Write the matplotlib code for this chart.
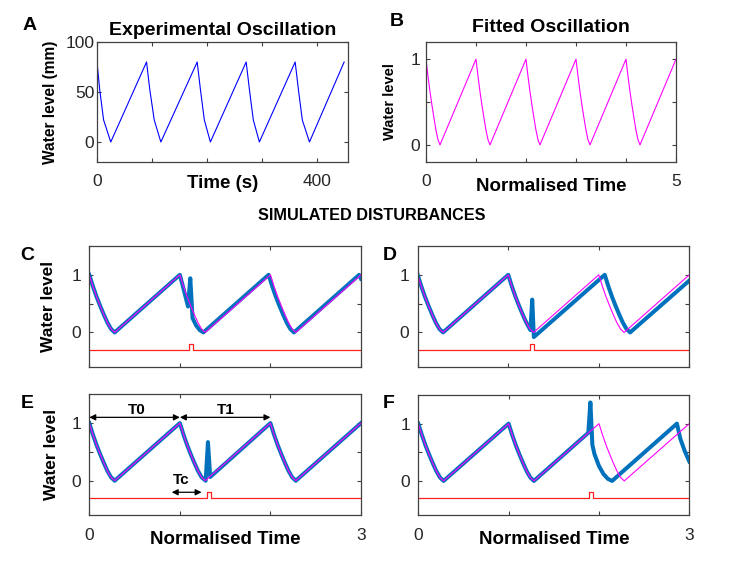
"""
Water-level oscillation figure: experimental trace, fitted model and
four simulated disturbance responses (panels A-F).
"""

import matplotlib

matplotlib.use("Agg")
import matplotlib.pyplot as plt

plt.rcParams["font.family"] = ["Liberation Sans", "DejaVu Sans"]

COLORS = {
    "exp": "#0000FF",       # experimental trace
    "fit": "#FF00FF",       # fitted model
    "sim": "#0072BD",       # simulated response
    "pulse": "#FF2020",     # disturbance pulse
    "axis": "#404040",
    "tick": "#262626",
}

# Panel A - experimental oscillation (s, mm)
A_TIME = [0, 5, 12, 25, 90, 96, 104, 116, 182, 188, 195, 206,
          271, 277, 284, 295, 360, 366, 373, 386, 449]
A_LEVEL = [80, 52, 22, 0, 80, 52, 22, 0, 80, 52, 22, 0,
           80, 52, 22, 0, 80, 52, 22, 0, 80]

# Panel B - fitted oscillation (normalised)
B_TIME = [0, 0.04, 0.08, 0.12, 0.16, 0.20, 0.24, 0.28,
          1, 1.04, 1.08, 1.12, 1.16, 1.20, 1.24, 1.28,
          2, 2.04, 2.08, 2.12, 2.16, 2.20, 2.24, 2.28,
          3, 3.04, 3.08, 3.12, 3.16, 3.20, 3.24, 3.28,
          4, 4.04, 4.08, 4.12, 4.16, 4.20, 4.24, 4.28, 5]
B_LEVEL = [1, 0.80, 0.62, 0.46, 0.31, 0.17, 0.06, 0,
           1, 0.80, 0.62, 0.46, 0.31, 0.17, 0.06, 0,
           1, 0.80, 0.62, 0.46, 0.31, 0.17, 0.06, 0,
           1, 0.80, 0.62, 0.46, 0.31, 0.17, 0.06, 0,
           1, 0.80, 0.62, 0.46, 0.31, 0.17, 0.06, 0, 1]

# Fitted reference used in C-F
FIT_TIME = [0, 0.04, 0.08, 0.12, 0.16, 0.20, 0.24, 0.28,
            1, 1.04, 1.08, 1.12, 1.16, 1.20, 1.24, 1.28,
            2, 2.04, 2.08, 2.12, 2.16, 2.20, 2.24, 2.28, 3]
FIT_LEVEL = [1, 0.80, 0.62, 0.46, 0.31, 0.17, 0.06, 0,
             1, 0.80, 0.62, 0.46, 0.31, 0.17, 0.06, 0,
             1, 0.80, 0.62, 0.46, 0.31, 0.17, 0.06, 0, 1]

# Simulated responses
C_TIME = [0, 0.04, 0.08, 0.12, 0.16, 0.20, 0.24, 0.28,
          1, 1.04, 1.09, 1.115, 1.14, 1.18, 1.22, 1.26,
          1.98, 2.02, 2.06, 2.10, 2.14, 2.18, 2.22, 2.26, 2.98, 3]
C_LEVEL = [1, 0.80, 0.62, 0.46, 0.31, 0.17, 0.06, 0,
           1, 0.76, 0.45, 0.94, 0.25, 0.12, 0.04, 0,
           1, 0.80, 0.62, 0.46, 0.31, 0.17, 0.06, 0, 1, 0.93]

D_TIME = [0, 0.04, 0.08, 0.12, 0.16, 0.20, 0.24, 0.28,
          1, 1.04, 1.08, 1.12, 1.16, 1.20, 1.245, 1.265, 1.283,
          2.066, 2.106, 2.146, 2.186, 2.226, 2.266, 2.306, 2.346, 3]
D_LEVEL = [1, 0.80, 0.62, 0.46, 0.31, 0.17, 0.06, 0,
           1, 0.80, 0.62, 0.46, 0.31, 0.17, 0.04, 0.57, -0.08,
           1, 0.80, 0.62, 0.46, 0.31, 0.17, 0.06, 0, 0.90]

E_TIME = [0, 0.04, 0.08, 0.12, 0.16, 0.20, 0.24, 0.28,
          1, 1.04, 1.08, 1.12, 1.16, 1.20, 1.24, 1.285, 1.31, 1.335,
          2, 2.04, 2.08, 2.12, 2.16, 2.20, 2.24, 2.28, 3]
E_LEVEL = [1, 0.80, 0.62, 0.46, 0.31, 0.17, 0.06, 0,
           1, 0.80, 0.62, 0.46, 0.31, 0.17, 0.06, 0, 0.67, 0.065,
           1, 0.80, 0.62, 0.46, 0.31, 0.17, 0.06, 0, 1]

F_TIME = [0, 0.04, 0.08, 0.12, 0.16, 0.20, 0.24, 0.28,
          1, 1.04, 1.08, 1.12, 1.16, 1.20, 1.24, 1.28,
          1.882, 1.905, 1.927, 1.95, 2.0, 2.05, 2.10, 2.145,
          2.863, 2.90, 2.95, 3]
F_LEVEL = [1, 0.80, 0.62, 0.46, 0.31, 0.17, 0.06, 0,
           1, 0.80, 0.62, 0.46, 0.31, 0.17, 0.06, 0,
           0.84, 1.37, 0.63, 0.47, 0.26, 0.12, 0.035, 0,
           1, 0.74, 0.52, 0.34]

# Disturbance pulse (start, end) per panel, baseline and top level
PULSES = {"C": (1.10, 1.147), "D": (1.243, 1.287),
          "E": (1.301, 1.346), "F": (1.893, 1.937)}
PULSE_BASE = -0.3
PULSE_TOP = -0.2

W, H = 747, 561


def px_box(left, top, right, bottom):
    """Axes rectangle from pixel edges of the reference."""
    return [left / W, 1 - bottom / H, (right - left) / W, (bottom - top) / H]


def style_axes(ax, xticks, xlabels, yticks, ylabels, ypad=3):
    ax.set_xticks(xticks)
    ax.set_xticklabels(xlabels)
    ax.set_yticks(yticks)
    ax.set_yticklabels(ylabels)
    ax.tick_params(direction="in", top=True, right=True, length=3, width=0.8,
                   colors=COLORS["axis"], labelcolor=COLORS["tick"], labelsize=12.5)
    ax.tick_params(axis="x", pad=9)
    ax.tick_params(axis="y", pad=ypad)
    for sp in ax.spines.values():
        sp.set_color(COLORS["axis"])
        sp.set_linewidth(0.9)


def set_xlabel(ax, text, y):
    ax.set_xlabel(text, fontsize=13.5, fontweight="bold")
    ax.xaxis.set_label_coords(0.5, y)
    ax.xaxis.label.set_va("center")


def set_ylabel(ax, text, x, size):
    ax.set_ylabel(text, fontsize=size, fontweight="bold")
    ax.yaxis.set_label_coords(x, 0.5)
    ax.yaxis.label.set_va("center")


def panel_letter(x, y, letter):
    fig.text(x / W, 1 - y / H, letter, fontsize=14, fontweight="bold",
             ha="center", va="center")


def sim_panel(box, sim_t, sim_v, pulse):
    ax = fig.add_axes(box)
    s, e = pulse
    ax.plot([0, s, s, e, e, 3],
            [PULSE_BASE, PULSE_BASE, PULSE_TOP, PULSE_TOP, PULSE_BASE, PULSE_BASE],
            color=COLORS["pulse"], lw=0.9)
    ax.plot(sim_t, sim_v, color=COLORS["sim"], lw=2.9, solid_joinstyle="round")
    ax.plot(FIT_TIME, FIT_LEVEL, color=COLORS["fit"], lw=0.8)
    ax.set_xlim(0, 3)
    ax.set_ylim(-0.6, 1.5)
    return ax


fig = plt.figure(figsize=(W / 100, H / 100), dpi=100)

# A
axA = fig.add_axes(px_box(97, 42, 348, 162))
axA.plot(A_TIME, A_LEVEL, color=COLORS["exp"], lw=0.8)
axA.set_xlim(0, 456)
axA.set_ylim(-20, 100)
style_axes(axA, [0, 100, 200, 300, 400], ["0", "", "", "", "400"],
           [0, 50, 100], ["0", "50", "100"], ypad=2)
axA.set_title("Experimental Oscillation", fontsize=14, fontweight="bold",
              y=1.058, pad=0)
set_xlabel(axA, "Time (s)", -0.175)
set_ylabel(axA, "Water level (mm)", -0.187, 11.2)

# B
axB = fig.add_axes(px_box(426, 42, 676, 162))
axB.plot(B_TIME, B_LEVEL, color=COLORS["fit"], lw=0.8)
axB.set_xlim(0, 5)
axB.set_ylim(-0.2, 1.2)
style_axes(axB, [0, 1, 2, 3, 4, 5], ["0", "", "", "", "", "5"],
           [0, 0.5, 1], ["0", "", "1"], ypad=4)
axB.set_title("Fitted Oscillation", fontsize=14, fontweight="bold",
              y=1.083, pad=0)
set_xlabel(axB, "Normalised Time", -0.208)
set_ylabel(axB, "Water level", -0.144, 10.5)

fig.text(372 / W, 1 - 215 / H, "SIMULATED DISTURBANCES", fontsize=11.7,
         fontweight="bold", ha="center", va="center")

sim_ticks = ([0, 1, 2, 3], [0, 0.5, 1], ["0", "", "1"])

# C
axC = sim_panel(px_box(89.3, 246, 361, 367), C_TIME, C_LEVEL, PULSES["C"])
style_axes(axC, sim_ticks[0], [], sim_ticks[1], sim_ticks[2], ypad=6)
set_ylabel(axC, "Water level", -0.15, 12.5)

# D
axD = sim_panel(px_box(417.7, 246, 689.3, 367), D_TIME, D_LEVEL, PULSES["D"])
style_axes(axD, sim_ticks[0], [], sim_ticks[1], sim_ticks[2], ypad=6)

# E
axE = sim_panel(px_box(89.3, 394.3, 361, 515.3), E_TIME, E_LEVEL, PULSES["E"])
style_axes(axE, sim_ticks[0], ["0", "", "", "3"], sim_ticks[1], sim_ticks[2], ypad=6)
set_xlabel(axE, "Normalised Time", -0.204)
set_ylabel(axE, "Water level", -0.14, 12.5)

arrow = dict(arrowstyle="<|-|>", color="black", lw=0.9, mutation_scale=9,
             shrinkA=0, shrinkB=0)
axE.annotate("", xy=(0, 1.1), xytext=(1, 1.1), arrowprops=arrow)
axE.annotate("", xy=(1, 1.1), xytext=(2, 1.1), arrowprops=arrow)
axE.annotate("", xy=(0.91, -0.2), xytext=(1.24, -0.2), arrowprops=arrow)
axE.text(0.52, 1.22, "T0", fontsize=11, fontweight="bold", ha="center", va="center")
axE.text(1.51, 1.22, "T1", fontsize=11, fontweight="bold", ha="center", va="center")
axE.text(1.01, 0.02, "Tc", fontsize=11, fontweight="bold", ha="center", va="center")

# F
axF = sim_panel(px_box(418.3, 395, 689.3, 515.3), F_TIME, F_LEVEL, PULSES["F"])
style_axes(axF, sim_ticks[0], ["0", "", "", "3"], sim_ticks[1], sim_ticks[2], ypad=6)
set_xlabel(axF, "Normalised Time", -0.204)

panel_letter(30, 25, "A")
panel_letter(397, 22, "B")
panel_letter(27.5, 256, "C")
panel_letter(390, 256, "D")
panel_letter(27, 404, "E")
panel_letter(389, 403, "F")

fig.savefig("out.png", dpi=100, facecolor="white")
